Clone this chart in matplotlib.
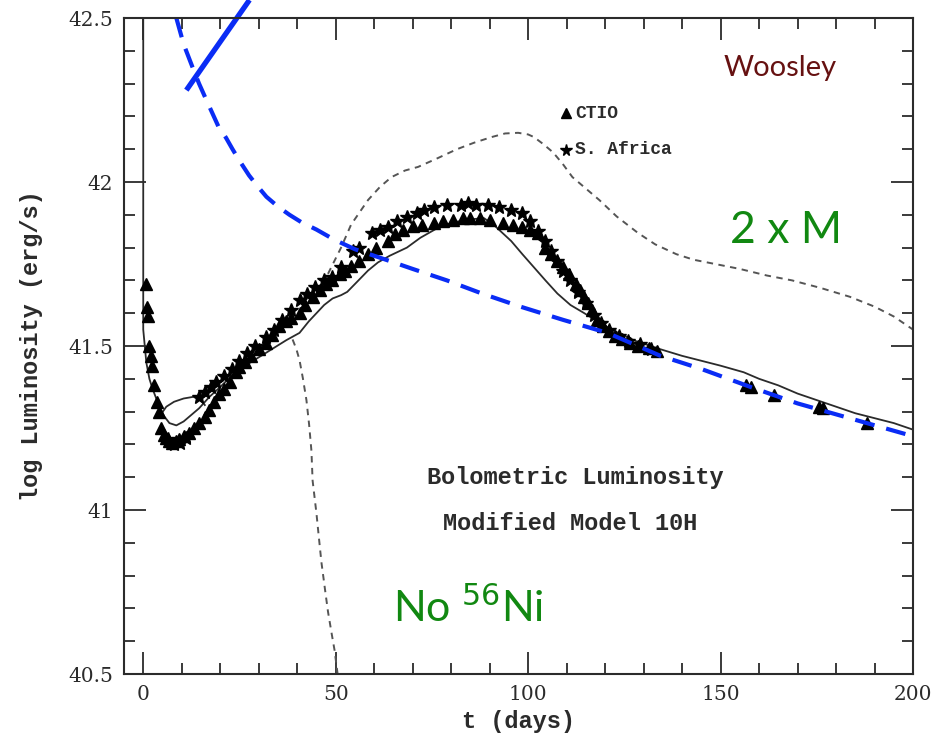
import numpy as np
import matplotlib
matplotlib.use("Agg")
import matplotlib.pyplot as plt
from matplotlib.ticker import MultipleLocator

# --- data ---
# CTIO (triangles)
ctio_t = [0.8, 1.1, 1.3, 1.6, 2.0, 2.4, 2.9, 3.5, 4.2, 4.6, 5.3, 6.0, 6.8, 7.6, 8.5, 9.4,
          10.5, 12, 13.3, 14.6, 16, 17.2, 18.5, 19.8, 21, 22.5, 24, 25, 26.5, 28, 30.2, 32,
          33.5, 35.4, 37, 38.5, 40.6, 42, 44, 45.8, 47.5, 49, 51, 52.3, 54, 56, 58.4, 60.5,
          63.5, 65.5, 67.5, 70, 72.5, 75.5, 78, 80.5, 83, 85, 87.5, 90, 93.5, 96, 98.4, 100.5,
          102.6, 104.5, 106, 107.6, 109, 110.5, 112.5, 113.5, 114.6, 115.5, 116.5, 118, 119.5,
          121, 122.5, 124.5, 126.5, 128.5, 131.5, 133.5, 156.5, 158, 164, 175.5, 176.5, 188]
ctio_L = [41.69, 41.62, 41.59, 41.50, 41.47, 41.44, 41.38, 41.33, 41.30, 41.25, 41.23, 41.22,
          41.21, 41.205, 41.21, 41.215, 41.225, 41.235, 41.25, 41.265, 41.285, 41.305, 41.33,
          41.355, 41.37, 41.39, 41.42, 41.435, 41.45, 41.47, 41.49, 41.51, 41.535, 41.56,
          41.575, 41.585, 41.60, 41.625, 41.65, 41.67, 41.69, 41.70, 41.72, 41.73, 41.745,
          41.76, 41.78, 41.80, 41.82, 41.84, 41.855, 41.865, 41.87, 41.875, 41.88, 41.885,
          41.89, 41.89, 41.89, 41.885, 41.875, 41.87, 41.863, 41.855, 41.845, 41.80, 41.78,
          41.76, 41.74, 41.72, 41.69, 41.67, 41.65, 41.63, 41.61, 41.58, 41.56, 41.545, 41.53,
          41.52, 41.51, 41.50, 41.495, 41.485, 41.38, 41.375, 41.35, 41.315, 41.31, 41.265]

# S. Africa (stars)
saf_t = [6.5, 8, 9.5, 11, 14.6, 16, 17.5, 19, 21, 23, 25, 27, 29, 32, 34, 36, 38.5, 40.6,
         42.5, 44.5, 47, 49, 51.5, 54.4, 56, 59.4, 61.5, 63.5, 66, 68.5, 71, 73, 75.5, 79,
         82.5, 84.5, 86.5, 89.5, 92.5, 95.5, 98.4, 100.5, 102.5, 104.5, 106, 107.5, 109, 111,
         113, 115, 117, 119, 121, 123.5, 126, 129, 132]
saf_L = [41.215, 41.20, 41.205, 41.22, 41.345, 41.36, 41.375, 41.39, 41.41, 41.43, 41.455,
         41.48, 41.50, 41.527, 41.55, 41.58, 41.61, 41.64, 41.66, 41.68, 41.70, 41.71, 41.74,
         41.79, 41.80, 41.845, 41.855, 41.863, 41.88, 41.893, 41.905, 41.915, 41.924, 41.93,
         41.93, 41.935, 41.93, 41.93, 41.924, 41.915, 41.905, 41.88, 41.85, 41.82, 41.79,
         41.76, 41.73, 41.70, 41.665, 41.63, 41.595, 41.57, 41.55, 41.53, 41.515, 41.505, 41.49]

# modified model 10H (solid)
model_t = [0, 0, 0.8, 1.6, 2.4, 4.2, 5.5, 6.8, 8.6, 10.5, 12.5, 14.5, 17.2, 20, 23, 27.6, 32,
           37.2, 40.6, 43, 45, 47, 49.2, 51.4, 53, 55.5, 58.4, 61, 64, 68.5, 72, 76.5, 80, 84,
           88.5, 91, 95.6, 98.5, 101.5, 104.5, 107.6, 111, 114.6, 118, 123.4, 128, 134.4, 140,
           145, 150, 156, 160, 165, 170, 175, 180, 185, 190, 195, 200]
model_L = [42.6, 41.55, 41.45, 41.40, 41.37, 41.315, 41.285, 41.265, 41.258, 41.27, 41.29,
           41.31, 41.345, 41.375, 41.41, 41.448, 41.48, 41.518, 41.54, 41.575, 41.60, 41.625,
           41.645, 41.655, 41.665, 41.695, 41.73, 41.755, 41.775, 41.80, 41.83, 41.86, 41.875,
           41.885, 41.89, 41.87, 41.82, 41.78, 41.74, 41.70, 41.66, 41.625, 41.60, 41.575,
           41.54, 41.515, 41.49, 41.47, 41.455, 41.44, 41.42, 41.40, 41.38, 41.355, 41.335,
           41.315, 41.295, 41.28, 41.265, 41.245]
loop_t = [4.5, 6, 8, 10.5, 13, 15, 16]
loop_L = [41.29, 41.315, 41.33, 41.34, 41.345, 41.335, 41.32]

# 2 x M model (gray dashed)
twom_t = [48, 51.4, 54, 58.4, 61.5, 64.5, 68, 71.4, 76, 81.5, 86, 90.5, 94, 97.4, 100, 101.5,
          104, 106.5, 109, 111.5, 115, 118.5, 123, 128.5, 133, 138.5, 143, 148.6, 155, 162,
          168.6, 176, 183.6, 190, 195, 200]
twom_L = [41.72, 41.80, 41.87, 41.945, 41.985, 42.015, 42.035, 42.046, 42.07, 42.10, 42.12,
          42.137, 42.148, 42.15, 42.145, 42.137, 42.115, 42.09, 42.055, 42.015, 41.98, 41.945,
          41.895, 41.845, 41.81, 41.78, 41.763, 41.75, 41.735, 41.715, 41.70, 41.677, 41.65,
          41.62, 41.59, 41.55]

# no 56Ni model (gray dashed)
noni_t = [38.8, 39.8, 40.6, 41.5, 42.4, 43.1, 43.7, 44, 45, 45.6, 46.3, 47.2, 48, 49, 49.7, 50.5]
noni_L = [41.52, 41.49, 41.457, 41.40, 41.335, 41.26, 41.18, 41.09, 40.99, 40.92, 40.84,
          40.76, 40.69, 40.62, 40.573, 40.5]

# blue overlays
blue_dash_t = [8.6, 10.5, 12.8, 14.5, 16.4, 19.5, 21.5, 23.2, 25, 27.5, 29.5, 32, 35, 38, 41,
               45, 49.5, 55, 63.3, 70, 78.9, 88, 98, 109, 120.6, 134.4, 145, 157.8, 170, 185,
               197, 200]
blue_dash_L = [42.5, 42.42, 42.35, 42.30, 42.25, 42.17, 42.135, 42.10, 42.065, 42.02, 41.99,
               41.955, 41.925, 41.90, 41.878, 41.855, 41.825, 41.795, 41.762, 41.735, 41.70,
               41.66, 41.62, 41.58, 41.54, 41.47, 41.43, 41.375, 41.325, 41.275, 41.235, 41.225]
blue_solid_t = [11.2, 27.6]
blue_solid_L = [42.28, 42.555]

ink = '#2b2b2b'
mono = 'Liberation Mono'

fig = plt.figure(figsize=(9.33, 7.41), dpi=100)
ax = fig.add_axes([0.1329, 0.0904, 0.8457, 0.8853])

gray_dash = (0, (3.3, 2.8))
ax.plot(twom_t, twom_L, color='#555555', lw=1.4, ls=gray_dash)
ax.plot(noni_t, noni_L, color='#555555', lw=1.4, ls=gray_dash)
ax.plot(model_t, model_L, color=ink, lw=1.3)
ax.plot(loop_t, loop_L, color=ink, lw=1.3)

ax.plot(ctio_t, ctio_L, ls='none', marker='^', ms=8, color='black')
ax.plot(saf_t, saf_L, ls='none', marker='*', ms=10, color='black')

ax.plot(blue_dash_t, blue_dash_L, color='#0a2cf5', lw=3, ls=(0, (4.8, 2.9)))
ax.plot(blue_solid_t, blue_solid_L, color='#0a2cf5', lw=3.8, clip_on=False,
        solid_capstyle='butt')

ax.set_xlim(-5, 200)
ax.set_ylim(40.5, 42.5)
ax.xaxis.set_major_locator(MultipleLocator(50))
ax.xaxis.set_minor_locator(MultipleLocator(10))
ax.yaxis.set_minor_locator(MultipleLocator(0.1))
ax.set_yticks([40.5, 41, 41.5, 42, 42.5])
ax.set_yticklabels(['40.5', '41', '41.5', '42', '42.5'])
ax.tick_params(which='both', direction='in', top=True, right=True, colors=ink,
               labelsize=14.5, width=1.3)
ax.tick_params(which='major', length=16, pad=8)
ax.tick_params(which='minor', length=8)
for lab in ax.get_xticklabels() + ax.get_yticklabels():
    lab.set_family('DejaVu Serif')
for s in ax.spines.values():
    s.set_linewidth(1.5)
    s.set_color(ink)

ax.set_xlabel('t (days)', family=mono, weight='bold', fontsize=17, color=ink, labelpad=4)
ax.set_ylabel('log Luminosity (erg/s)', family=mono, weight='bold', fontsize=17, color=ink,
              labelpad=18)

# legend-like labels
ax.plot([0.560], [0.855], transform=ax.transAxes, marker='^', ms=6.5, color='black')
ax.plot([0.560], [0.799], transform=ax.transAxes, marker='*', ms=8.5, color='black')
ax.text(0.572, 0.855, 'CTIO', transform=ax.transAxes, family=mono, weight='bold',
        fontsize=13, color=ink, va='center')
ax.text(0.572, 0.799, 'S. Africa', transform=ax.transAxes, family=mono, weight='bold',
        fontsize=13, color=ink, va='center')

ax.text(0.5716, 0.300, 'Bolometric Luminosity', transform=ax.transAxes, family=mono,
        weight='bold', fontsize=17, color=ink, ha='center', va='center')
ax.text(0.565, 0.230, 'Modified Model 10H', transform=ax.transAxes, family=mono,
        weight='bold', fontsize=17, color=ink, ha='center', va='center')

# annotations
ax.text(0.760, 0.912, 'Woosley', transform=ax.transAxes, family='Lato', fontsize=21,
        color='#661111', va='baseline')
ax.text(0.768, 0.657, '2 x M', transform=ax.transAxes, family='Lato', fontsize=32,
        color='#118811', va='baseline')
ax.text(0.341, 0.080, r'No $^{56}$Ni', transform=ax.transAxes, family='Lato', fontsize=31,
        color='#118811', va='baseline')

fig.savefig('out.png', dpi=100)
